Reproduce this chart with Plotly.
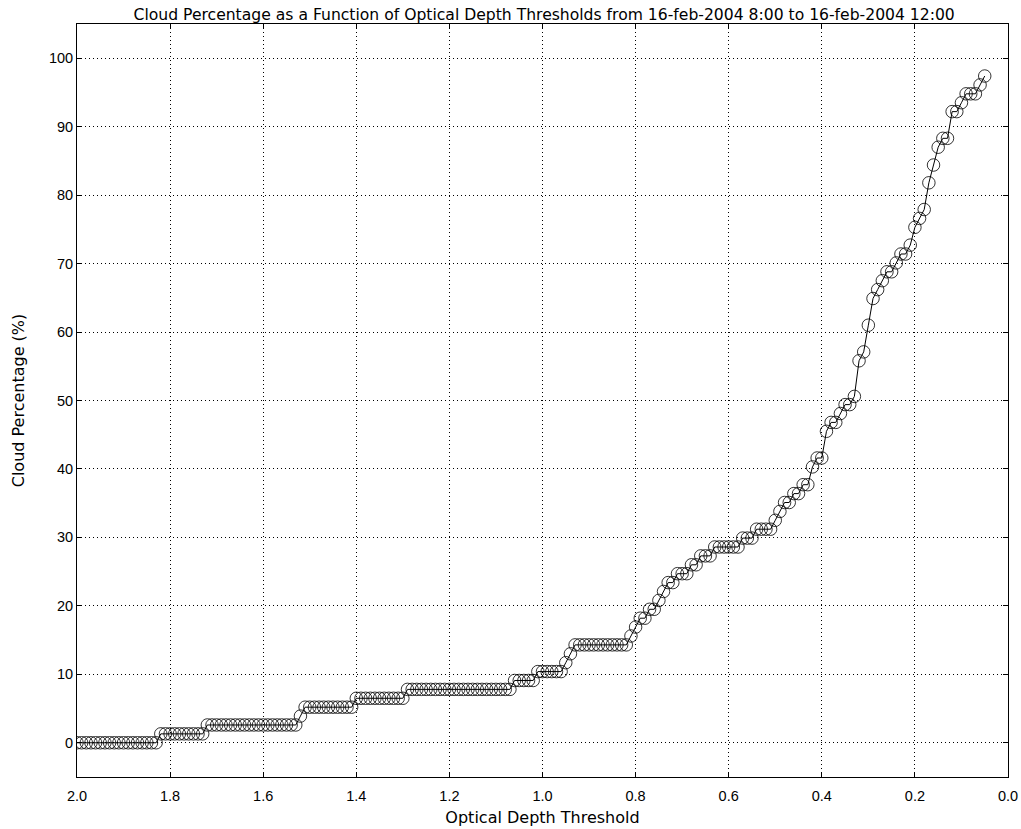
import plotly.graph_objects as go

# Optical depth thresholds (2.00 down to 0.05, step 0.01)
thresholds = [
    2.00, 1.99, 1.98, 1.97, 1.96, 1.95, 1.94, 1.93, 1.92, 1.91,
    1.90, 1.89, 1.88, 1.87, 1.86, 1.85, 1.84, 1.83, 1.82, 1.81,
    1.80, 1.79, 1.78, 1.77, 1.76, 1.75, 1.74, 1.73, 1.72, 1.71,
    1.70, 1.69, 1.68, 1.67, 1.66, 1.65, 1.64, 1.63, 1.62, 1.61,
    1.60, 1.59, 1.58, 1.57, 1.56, 1.55, 1.54, 1.53, 1.52, 1.51,
    1.50, 1.49, 1.48, 1.47, 1.46, 1.45, 1.44, 1.43, 1.42, 1.41,
    1.40, 1.39, 1.38, 1.37, 1.36, 1.35, 1.34, 1.33, 1.32, 1.31,
    1.30, 1.29, 1.28, 1.27, 1.26, 1.25, 1.24, 1.23, 1.22, 1.21,
    1.20, 1.19, 1.18, 1.17, 1.16, 1.15, 1.14, 1.13, 1.12, 1.11,
    1.10, 1.09, 1.08, 1.07, 1.06, 1.05, 1.04, 1.03, 1.02, 1.01,
    1.00, 0.99, 0.98, 0.97, 0.96, 0.95, 0.94, 0.93, 0.92, 0.91,
    0.90, 0.89, 0.88, 0.87, 0.86, 0.85, 0.84, 0.83, 0.82, 0.81,
    0.80, 0.79, 0.78, 0.77, 0.76, 0.75, 0.74, 0.73, 0.72, 0.71,
    0.70, 0.69, 0.68, 0.67, 0.66, 0.65, 0.64, 0.63, 0.62, 0.61,
    0.60, 0.59, 0.58, 0.57, 0.56, 0.55, 0.54, 0.53, 0.52, 0.51,
    0.50, 0.49, 0.48, 0.47, 0.46, 0.45, 0.44, 0.43, 0.42, 0.41,
    0.40, 0.39, 0.38, 0.37, 0.36, 0.35, 0.34, 0.33, 0.32, 0.31,
    0.30, 0.29, 0.28, 0.27, 0.26, 0.25, 0.24, 0.23, 0.22, 0.21,
    0.20, 0.19, 0.18, 0.17, 0.16, 0.15, 0.14, 0.13, 0.12, 0.11,
    0.10, 0.09, 0.08, 0.07, 0.06, 0.05,
]

# Cloud percentage (%) at each threshold
cloud_pct = [
    0, 0, 0, 0, 0, 0, 0, 0, 0, 0,
    0, 0, 0, 0, 0, 0, 0, 0, 1.3, 1.3,
    1.3, 1.3, 1.3, 1.3, 1.3, 1.3, 1.3, 1.3, 2.6, 2.6,
    2.6, 2.6, 2.6, 2.6, 2.6, 2.6, 2.6, 2.6, 2.6, 2.6,
    2.6, 2.6, 2.6, 2.6, 2.6, 2.6, 2.6, 2.6, 3.9, 5.2,
    5.2, 5.2, 5.2, 5.2, 5.2, 5.2, 5.2, 5.2, 5.2, 5.2,
    6.5, 6.5, 6.5, 6.5, 6.5, 6.5, 6.5, 6.5, 6.5, 6.5,
    6.5, 7.8, 7.8, 7.8, 7.8, 7.8, 7.8, 7.8, 7.8, 7.8,
    7.8, 7.8, 7.8, 7.8, 7.8, 7.8, 7.8, 7.8, 7.8, 7.8,
    7.8, 7.8, 7.8, 7.8, 9.1, 9.1, 9.1, 9.1, 9.1, 10.4,
    10.4, 10.4, 10.4, 10.4, 10.4, 11.7, 13.0, 14.3, 14.3, 14.3,
    14.3, 14.3, 14.3, 14.3, 14.3, 14.3, 14.3, 14.3, 14.3, 15.6,
    16.9, 18.2, 18.2, 19.5, 19.5, 20.8, 22.1, 23.4, 23.4, 24.7,
    24.7, 24.7, 26.0, 26.0, 27.3, 27.3, 27.3, 28.6, 28.6, 28.6,
    28.6, 28.6, 28.6, 29.9, 29.9, 29.9, 31.2, 31.2, 31.2, 31.2,
    32.5, 33.8, 35.1, 35.1, 36.4, 36.4, 37.7, 37.7, 40.3, 41.6,
    41.6, 45.5, 46.8, 46.8, 48.1, 49.4, 49.4, 50.6, 55.8, 57.1,
    61.0, 64.9, 66.2, 67.5, 68.8, 68.8, 70.1, 71.4, 71.4, 72.7,
    75.3, 76.6, 77.9, 81.8, 84.4, 87.0, 88.3, 88.3, 92.2, 92.2,
    93.5, 94.8, 94.8, 94.8, 96.1, 97.4,
]

x_ticks = [2.0, 1.8, 1.6, 1.4, 1.2, 1.0, 0.8, 0.6, 0.4, 0.2, 0.0]
x_tick_text = ["2.0", "1.8", "1.6", "1.4", "1.2", "1.0", "0.8", "0.6", "0.4", "0.2", "0.0"]
y_ticks = [0, 10, 20, 30, 40, 50, 60, 70, 80, 90, 100]

title_text = ("Cloud Percentage as a Function of Optical Depth Thresholds "
              "from 16-feb-2004 8:00 to 16-feb-2004 12:00")

FONT = "Liberation Sans, Arial, Helvetica, sans-serif"
WIDE = "DejaVu Sans, Verdana, sans-serif"

fig = go.Figure()
fig.add_trace(go.Scatter(
    x=thresholds, y=cloud_pct,
    mode="lines+markers",
    line=dict(color="black", width=1),
    marker=dict(symbol="circle-open", size=12.5, color="black",
                line=dict(color="black", width=0.8)),
    showlegend=False,
))

axis_common = dict(
    showline=True, linecolor="black", linewidth=1, mirror="allticks",
    ticks="inside", ticklen=5, tickcolor="black", tickwidth=1,
    showgrid=True, gridcolor="black", gridwidth=1, griddash="1px,3px",
    zeroline=False, automargin=False,
    tickfont=dict(family=FONT, size=14.5, color="black"),
)

fig.update_layout(
    width=1021, height=829,
    margin=dict(l=77, r=13, t=24, b=52),
    paper_bgcolor="white", plot_bgcolor="white",
    font=dict(family=FONT, size=14, color="black"),
    title=dict(text=title_text, x=0.533, xanchor="center", y=0.982, yanchor="middle",
               font=dict(family=WIDE, size=15.6, color="black")),
    xaxis=dict(range=[2.0, 0.0], tickvals=x_ticks, ticktext=x_tick_text,
               ticklabelstandoff=6,
               title=dict(text="Optical Depth Threshold", standoff=8,
                          font=dict(family=WIDE, size=16)),
               **axis_common),
    yaxis=dict(range=[-5, 105], tickvals=y_ticks,
               title=dict(text="Cloud Percentage (%)", standoff=20,
                          font=dict(family=WIDE, size=16)),
               **axis_common),
)

fig.write_html("out.html")
